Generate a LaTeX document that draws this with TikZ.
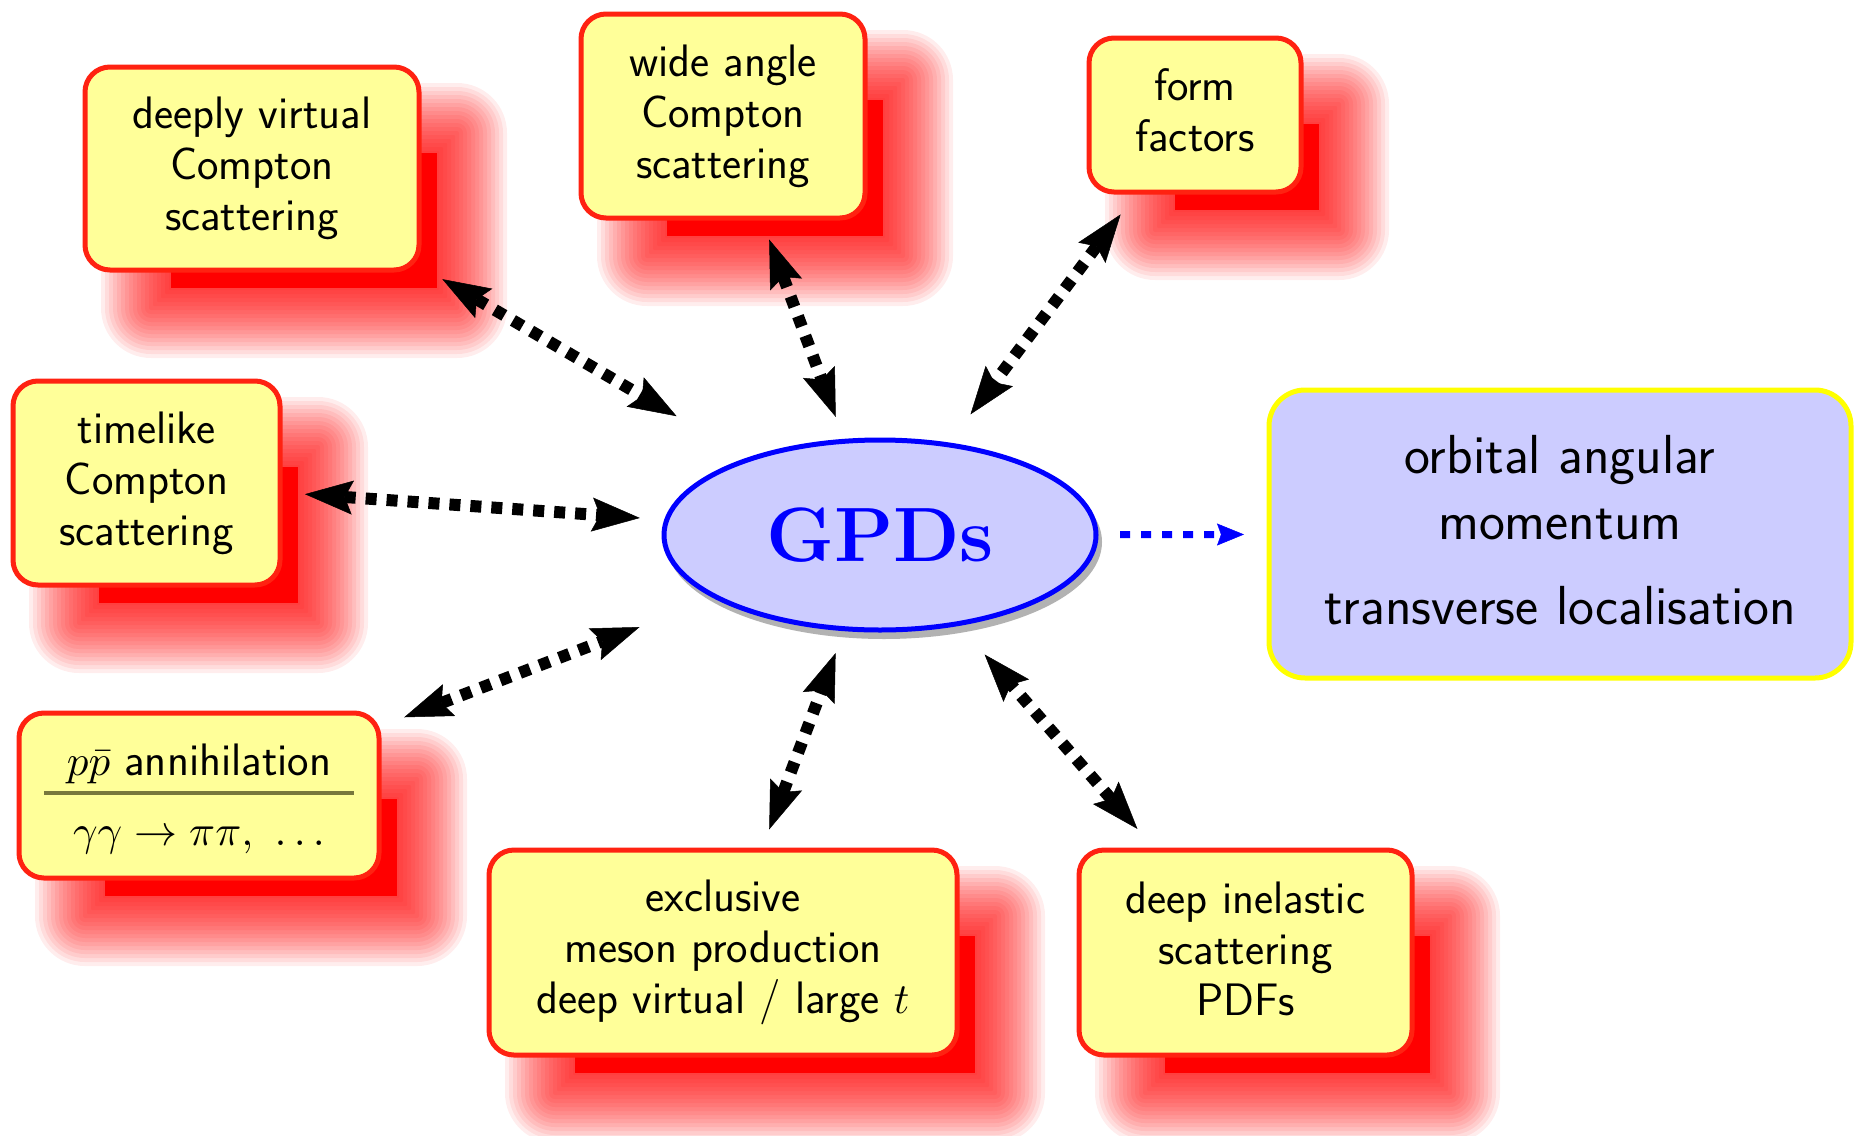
\documentclass[tikz,border=0pt]{standalone}
\usepackage{graphicx}
\usepackage{fontspec}
\usetikzlibrary{arrows.meta,calc,shapes.geometric}
\pgfdeclarelayer{background}
\pgfsetlayers{background,main}
\definecolor{boxyellow}{RGB}{255,255,153}
\definecolor{lav}{RGB}{204,204,255}
\definecolor{ruleolive}{RGB}{120,120,60}
\definecolor{boxred}{RGB}{255,34,17}
\definecolor{shadred}{RGB}{255,0,0}
\definecolor{gpdblue}{RGB}{0,0,255}
\definecolor{orbyellow}{RGB}{255,255,0}
\newcommand\bigmath[1]{\scalebox{4.3}{\fontsize{10}{12}\selectfont$#1$}}
\newcommand\redshadow[1]{%
  \begin{pgfonlayer}{background}
    \foreach \e [evaluate=\e as \rr using {max(\e+14,1)}] in {36,32,...,-32}{%
      \fill[shadred,opacity=0.07,rounded corners=\rr pt]
        ($(#1.north west)+({52-(\e)},{52-(\e)})$) rectangle ($(#1.south east)+({52+(\e)},{52+(\e)})$);
    }
    \fill[shadred] ($(#1.north west)+(86,86)$) rectangle ($(#1.south east)+(18,18)$);
  \end{pgfonlayer}}
\begin{document}
\begin{tikzpicture}[x=1pt,y=-1pt,
  redbox/.style={draw=boxred,line width=5pt,fill=boxyellow,rounded corners=25pt,inner sep=0pt,outer sep=0pt,align=center,font=\fontsize{45.5}{51}\selectfont\sffamily},
  orbbox/.style={draw=orbyellow,line width=5pt,fill=lav,rounded corners=36pt,inner sep=0pt,outer sep=0pt,align=center,font=\fontsize{55}{66}\selectfont\sffamily},
  gpdell/.style={ellipse,draw=gpdblue,line width=5pt,fill=lav,inner sep=0pt,outer sep=0pt,minimum width=432pt,minimum height=190pt,text=gpdblue,font=\fontsize{77}{84}\selectfont\rmfamily\bfseries},
  biarrow/.style={line width=12pt,dash pattern=on 11pt off 10pt,>={Stealth[length=48pt,width=34pt,inset=8pt,line width=0.5pt]},<->},
  bluearrow/.style={draw=gpdblue,line width=7pt,dash pattern=on 10pt off 11pt,-{Stealth[length=27pt,width=22pt,inset=4pt,line width=0.5pt]}}
]
\useasboundingbox (0,0) rectangle (1854,1135);
\begin{pgfonlayer}{background}
  \fill[white] (0,0) rectangle (1854,1135);
\end{pgfonlayer}

\node[redbox,minimum width=334pt,minimum height=203pt] (dvcs) at (252,168.5) {deeply virtual\\Compton\\scattering};
\node[redbox,minimum width=284pt,minimum height=204pt] (wide) at (723,116) {wide angle\\Compton\\scattering};
\node[redbox,minimum width=212pt,minimum height=154pt] (form) at (1195,115) {form\\factors\rule[-10pt]{0pt}{10pt}};
\node[redbox,minimum width=267pt,minimum height=204pt] (time) at (146.5,483) {timelike\\Compton\\scattering};
\node[redbox,minimum width=360pt,minimum height=165pt] (pp) at (199,795.5) {\rule{0pt}{39pt}\bigmath{p\bar{p}} annihilation\\[-32pt]\textcolor{ruleolive}{\rule{310pt}{3.5pt}}\\\bigmath{\gamma\gamma\rightarrow\pi\pi,\ \ldots}};
\node[redbox,minimum width=468pt,minimum height=205pt] (excl) at (723,952.5) {exclusive\\meson production\\deep virtual / large \bigmath{t}};
\node[redbox,minimum width=333pt,minimum height=205pt] (dis) at (1245.5,952.5) {deep inelastic\\scattering\\PDFs\rule[-8pt]{0pt}{8pt}};
\node[orbbox,minimum width=582pt,minimum height=288pt] (orb) at (1560,534) {orbital angular\\momentum\\[19pt]transverse localisation\rule[-8pt]{0pt}{8pt}};
\node[gpdell] (gpd) at (880,535) {GPDs};

\redshadow{dvcs}
\redshadow{wide}
\redshadow{form}
\redshadow{time}
\redshadow{pp}
\redshadow{excl}
\redshadow{dis}
\begin{pgfonlayer}{background}
  \fill[gray!60] ($(gpd.center)+(4,7)$) ellipse [x radius=218pt, y radius=97pt];
\end{pgfonlayer}

\draw[biarrow,shorten <=27pt,shorten >=85pt] (dvcs) -- (gpd);
\draw[biarrow,shorten <=23pt,shorten >=26pt] (wide) -- (gpd);
\draw[biarrow,shorten <=28pt,shorten >=38pt] (form) -- (gpd);
\draw[biarrow,shorten <=25pt,shorten >=27pt] (time) -- (gpd);
\draw[biarrow,shorten <=27pt,shorten >=83pt] (pp) -- (gpd);
\draw[biarrow,shorten <=22pt,shorten >=26pt] (excl) -- (gpd);
\draw[biarrow,shorten <=28pt,shorten >=41pt] (dis) -- (gpd);
\draw[bluearrow,shorten <=24pt,shorten >=25pt] (gpd) -- (orb);
\end{tikzpicture}
\end{document}
